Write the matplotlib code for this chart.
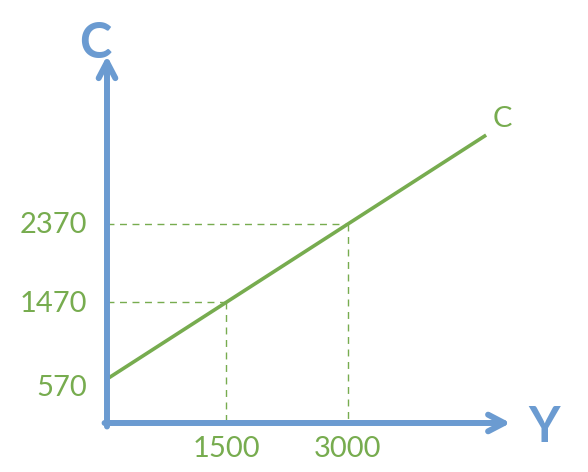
import numpy as np
import matplotlib.pyplot as plt

# --- Data ---
intercept = 570          # autonomous consumption
mpc = 0.6                # slope
y_marks = [1500, 3000]   # income points marked on the x axis
c_marks = [1470, 2370]   # matching consumption values
y_end = 4700             # where the drawn line stops

blue = '#6B9BD1'
green = '#77AC4F'

fig = plt.figure(figsize=(5.88, 4.72), dpi=100)
ax = fig.add_axes([0, 0, 1, 1])
# data limits chosen so the plot sits where the reference puts it
ax.set_xlim(-1279, 5953)
ax.set_ylim(-474, 4939)
ax.axis('off')

x0, y0 = 37, 88   # where the two axes cross

# consumption line
yy = np.array([x0, y_end])
ax.plot(yy, intercept + mpc * yy, color=green, lw=2.6, solid_capstyle='butt', zorder=3)

# dashed guides
for ym, cm in zip(y_marks, c_marks):
    ax.plot([x0, ym], [cm, cm], color=green, lw=1, ls=(0, (5, 4)), zorder=2)
    ax.plot([ym, ym], [cm, y0], color=green, lw=1, ls=(0, (5, 4)), zorder=2)

# axes with open arrowheads
arrow = dict(arrowstyle='->,head_length=1.15,head_width=0.6', color=blue, lw=4.3,
             capstyle='round', joinstyle='round', shrinkA=0, shrinkB=0)
ax.annotate('', xy=(x0, 4300), xytext=(x0, y0 - 40), arrowprops=arrow, zorder=4)
ax.annotate('', xy=(5000, y0), xytext=(x0 - 30, y0), arrowprops=arrow, zorder=4)

font = 'Lato'
ax.text(-110, 4440, 'C', color=blue, fontsize=35, fontweight='bold', family=font,
        ha='center', va='center')
ax.text(5410, 40, 'Y', color=blue, fontsize=35, fontweight='bold', family=font,
        ha='center', va='center')
ax.text(4900, 3580, 'C', color=green, fontsize=21, family=font, ha='center', va='center')

# the 570 label sits a little below the line start in the reference
label_shift = {intercept: -80, c_marks[0]: -20, c_marks[1]: -10}
for cm in [intercept] + c_marks:
    ax.text(-210, cm + label_shift[cm], str(cm), color=green, fontsize=21, family=font,
            ha='right', va='center')
for ym in y_marks:
    ax.text(ym, -215, str(ym), color=green, fontsize=21, family=font,
            ha='center', va='center')

fig.savefig('out.png', dpi=100)
